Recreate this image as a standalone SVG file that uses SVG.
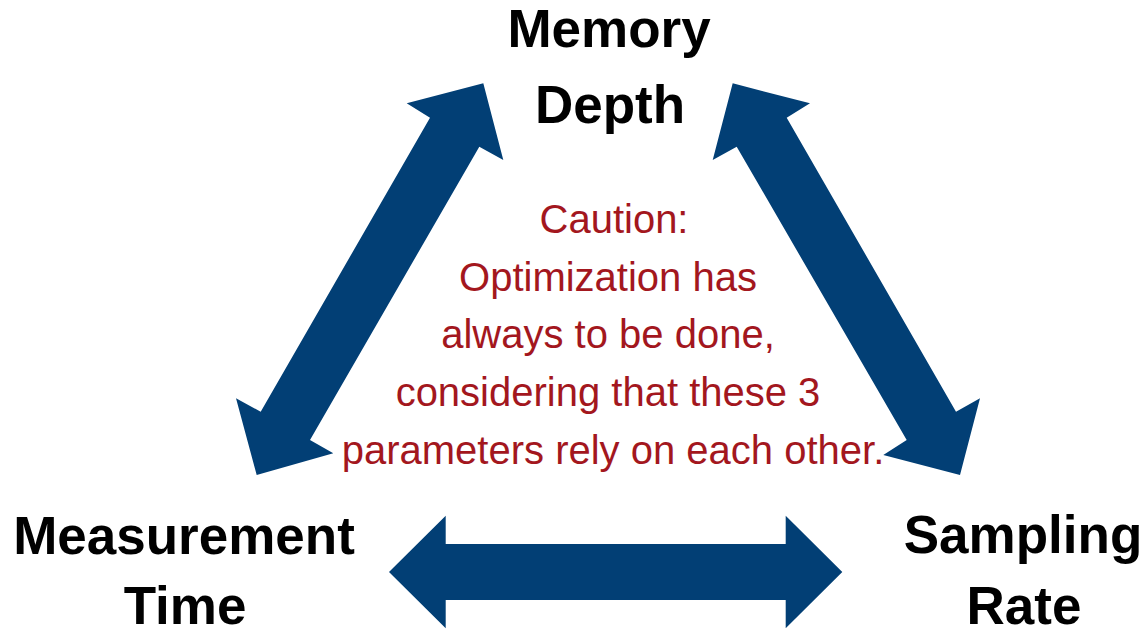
<svg xmlns="http://www.w3.org/2000/svg" width="1147" height="632" viewBox="0 0 1147 632">
<style>
.arrow{fill:#023f75;stroke:none}
.lbl{font-family:"Liberation Sans",Arial,sans-serif;font-weight:bold;font-size:53px;fill:#000;text-anchor:middle}
.note{font-family:"Liberation Sans",Arial,sans-serif;font-size:40px;fill:#a3171e;text-anchor:middle}
</style>
<rect width="1147" height="632" fill="#fff"/>
<g id="connectors">
<polygon class="arrow" points="483.3,83.3 503.3,160 479.3,146.7 310,440 333.3,453.3 256.7,475 236,398.3 260.7,411.7 430,117.7 406.7,103.3"/>
<polygon class="arrow" points="732.7,83.3 810,103.3 786.7,117.7 956,411.7 980,398.3 960,475 883.3,455 906.7,440 736.7,146.7 712.7,160"/>
<polygon class="arrow" points="389,572 445.7,515.7 445.7,544 785.7,544 785.7,515.7 842.3,572 785.7,628.3 785.7,600 445.7,600 445.7,628.3"/>
</g>
<g id="memory-depth">
<text class="lbl" x="609" y="47">Memory</text>
<text class="lbl" x="610" y="123">Depth</text>
</g>
<g id="measurement-time">
<text class="lbl" x="184" y="554">Measurement</text>
<text class="lbl" x="185" y="624">Time</text>
</g>
<g id="sampling-rate">
<text class="lbl" x="1023" y="553">Sampling</text>
<text class="lbl" x="1024" y="624">Rate</text>
</g>
<g id="caution">
<text class="note" x="614" y="233">Caution:</text>
<text class="note" x="608" y="291">Optimization has</text>
<text class="note" x="608" y="348">always to be done,</text>
<text class="note" x="608" y="406">considering that these 3</text>
<text class="note" x="613" y="464">parameters rely on each other.</text>
</g>
</svg>
